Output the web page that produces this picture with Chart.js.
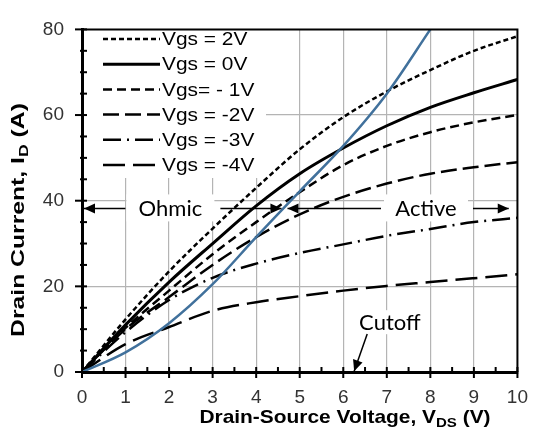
<!doctype html>
<html lang="en">
<head>
<meta charset="utf-8">
<title>Drain Current vs Drain-Source Voltage</title>
<script src="https://cdn.jsdelivr.net/npm/chart.js"></script>
<style>
  html, body { margin: 0; padding: 0; background: #fff; }
  #wrap { width: 542px; height: 430px; position: relative; }
</style>
</head>
<body>
<div id="wrap"><canvas id="ivChart"></canvas></div>
<script>
// drain-source voltage steps (V)
const vds = [0, 1, 2, 3, 4, 5, 6, 7, 8, 9, 10];

// drain current (A) for each gate-source voltage
const vgsLabels = ['Vgs = 2V', 'Vgs = 0V', 'Vgs= - 1V', 'Vgs = -2V', 'Vgs = -3V', 'Vgs = -4V'];
const idVgsP2 = [0, 12.3, 23.5, 33.5, 43, 52, 59.5, 65.5, 70.5, 75, 78.4];
const idVgs0  = [0, 11, 21, 30, 38.8, 46.3, 52.3, 57.5, 61.8, 65.2, 68.3];
const idVgsM1 = [0, 10.3, 19, 27.5, 35, 42, 48.3, 52.8, 56, 58.3, 60];
const idVgsM2 = [0, 10, 17.5, 25, 31.5, 36.8, 40.9, 44, 46.3, 47.8, 49];
const idVgsM3 = [0, 9.3, 16.8, 22, 25.3, 27.8, 29.8, 31.8, 33.4, 35, 36];
const idVgsM4 = [0, 6.5, 10.5, 14.3, 16.3, 17.7, 19, 20.1, 21, 21.9, 22.8];

// ohmic / active boundary
const edgeVds = [0, 1, 2, 3, 4, 5, 6, 7, 8];
const edgeId  = [0, 4.6, 11.4, 20.5, 31.5, 42.2, 52.8, 65, 80];

// axis ticks
const xTicks = [0, 1, 2, 3, 4, 5, 6, 7, 8, 9, 10];
const yTicks = [0, 20, 40, 60, 80];

const curves = [idVgsP2, idVgs0, idVgsM1, idVgsM2, idVgsM3, idVgsM4];
const dashes = [[5, 3], [], [9, 5], [16, 6], [18, 6, 2, 6], [22, 8]];
const widths = [2.5, 3, 2.5, 2.5, 2.5, 2.5];

const toPoints = (xs, ys) => xs.map((x, i) => ({ x: x, y: ys[i] }));

const datasets = curves.map((ys, i) => ({
  label: vgsLabels[i],
  data: toPoints(vds, ys),
  borderColor: '#000',
  borderWidth: widths[i],
  borderDash: dashes[i],
  pointRadius: 0,
  cubicInterpolationMode: 'monotone',
  fill: false
}));

datasets.push({
  label: 'boundary',
  data: toPoints(edgeVds, edgeId),
  borderColor: '#41719c',
  borderWidth: 2.5,
  pointRadius: 0,
  cubicInterpolationMode: 'monotone',
  order: -1,
  fill: false
});

const sansFont = '"Liberation Sans", Arial, sans-serif';
const noteFont = '22px Lato, "Open Sans", sans-serif';

// centred bold text with one subscript part, stretched along the baseline
function drawSubText(ctx, parts, size, stretch) {
  ctx.scale(stretch, 1);
  let total = 0;
  const pieces = parts.map(p => {
    ctx.font = 'bold ' + (p.sub ? size * 0.72 : size) + 'px ' + sansFont;
    const w = ctx.measureText(p.t).width;
    total += w;
    return { t: p.t, sub: p.sub, w: w };
  });
  let x = -total / 2;
  pieces.forEach(p => {
    ctx.font = 'bold ' + (p.sub ? size * 0.72 : size) + 'px ' + sansFont;
    ctx.fillText(p.t, x, p.sub ? size * 0.3 : 0);
    x += p.w;
  });
}

function arrowHead(ctx, x, y, dir) {
  ctx.beginPath();
  ctx.moveTo(x, y);
  ctx.lineTo(x - dir * 11, y - 5);
  ctx.lineTo(x - dir * 11, y + 5);
  ctx.closePath();
  ctx.fill();
}

const decorations = {
  id: 'decorations',
  beforeDatasetsDraw(chart) {
    const { ctx } = chart;
    const xs = chart.scales.x, ys = chart.scales.y;
    ctx.save();
    ctx.fillStyle = '#fff';
    // legend panel
    ctx.fillRect(86, 22, 180, 156);
    // label backgrounds
    const yArrow = ys.getPixelForValue(38.2);
    ctx.fillRect(xs.getPixelForValue(2.03) - 44, yArrow - 14, 88, 27);
    ctx.fillRect(xs.getPixelForValue(7.9) - 42, yArrow - 14, 84, 27);
    ctx.fillRect(xs.getPixelForValue(7.07) - 34, ys.getPixelForValue(11.4) - 13, 68, 24);
    ctx.restore();
  },
  afterDatasetsDraw(chart) {
    const { ctx, chartArea } = chart;
    const xs = chart.scales.x, ys = chart.scales.y;
    const L = chartArea.left, R = chartArea.right, T = chartArea.top, B = chartArea.bottom;
    ctx.save();

    // frame top and right
    ctx.strokeStyle = '#000';
    ctx.lineWidth = 2;
    ctx.beginPath();
    ctx.moveTo(L, T); ctx.lineTo(R, T); ctx.lineTo(R, B);
    ctx.stroke();

    // tick marks
    ctx.lineWidth = 2;
    for (let v = 0; v <= 10; v += 0.5) {
      const px = xs.getPixelForValue(v);
      ctx.beginPath();
      ctx.moveTo(px, B - 5);
      ctx.lineTo(px, Number.isInteger(v) ? B + 6 : B);
      ctx.stroke();
    }
    for (let v = 0; v <= 80; v += 5) {
      const py = ys.getPixelForValue(v);
      ctx.beginPath();
      ctx.moveTo(v % 20 === 0 ? L - 7 : L - 2, py);
      ctx.lineTo(L + 5, py);
      ctx.stroke();
    }

    // legend
    ctx.textBaseline = 'middle';
    ctx.textAlign = 'left';
    chart.data.datasets.slice(0, vgsLabels.length).forEach((ds, i) => {
      const y = 39 + i * 25.2;
      ctx.setLineDash(ds.borderDash);
      ctx.lineWidth = ds.borderWidth;
      ctx.beginPath();
      ctx.moveTo(103, y); ctx.lineTo(160, y);
      ctx.stroke();
      ctx.setLineDash([]);
      ctx.fillStyle = '#000';
      ctx.save();
      ctx.translate(162, y + 1);
      ctx.scale(1.1, 1);
      ctx.font = '19px ' + sansFont;
      ctx.fillText(ds.label, 0, 0);
      ctx.restore();
    });

    // region labels
    const yArrow = ys.getPixelForValue(38.2);
    ctx.lineWidth = 1.5;
    ctx.fillStyle = '#000';
    ctx.font = noteFont;
    ctx.textAlign = 'center';
    const ohmicX = xs.getPixelForValue(2.03);
    const activeX = xs.getPixelForValue(7.9);
    ctx.fillText('Ohmic', ohmicX, yArrow);
    ctx.fillText('Active', activeX, yArrow);

    const x0 = xs.getPixelForValue(0), xm1 = xs.getPixelForValue(4.58);
    const xm2 = xs.getPixelForValue(4.72), x1 = xs.getPixelForValue(9.8);
    ctx.beginPath();
    ctx.moveTo(x0 + 2, yArrow); ctx.lineTo(ohmicX - 45, yArrow);
    ctx.moveTo(ohmicX + 50, yArrow); ctx.lineTo(xm1, yArrow);
    ctx.moveTo(xm2, yArrow); ctx.lineTo(activeX - 45, yArrow);
    ctx.moveTo(activeX + 47, yArrow); ctx.lineTo(x1, yArrow);
    ctx.stroke();
    arrowHead(ctx, x0 + 2, yArrow, -1);
    arrowHead(ctx, xm1, yArrow, 1);
    arrowHead(ctx, xm2, yArrow, -1);
    arrowHead(ctx, x1, yArrow, 1);

    // cutoff note
    ctx.fillText('Cutoff', xs.getPixelForValue(7.07), ys.getPixelForValue(11.4));
    const ax = xs.getPixelForValue(6.55), ay = ys.getPixelForValue(8.9);
    const tx = xs.getPixelForValue(6.25), ty = ys.getPixelForValue(0.2);
    ctx.beginPath();
    ctx.moveTo(ax, ay); ctx.lineTo(tx, ty);
    ctx.stroke();
    const ang = Math.atan2(ty - ay, tx - ax);
    ctx.save();
    ctx.translate(tx, ty);
    ctx.rotate(ang);
    arrowHead(ctx, 0, 0, 1);
    ctx.restore();

    // axis titles
    ctx.fillStyle = '#000';
    ctx.textAlign = 'left';
    ctx.textBaseline = 'middle';
    ctx.save();
    ctx.translate(19, 220);
    ctx.rotate(-Math.PI / 2);
    drawSubText(ctx, [{ t: 'Drain Current, I' }, { t: 'D', sub: true }, { t: ' (A)' }], 19, 1.3);
    ctx.restore();
    ctx.save();
    ctx.translate(345, 418);
    drawSubText(ctx, [{ t: 'Drain-Source Voltage, V' }, { t: 'DS', sub: true }, { t: ' (V)' }], 18.5, 1.13);
    ctx.restore();

    ctx.restore();
  }
};

new Chart(document.getElementById('ivChart'), {
  type: 'line',
  data: { datasets: datasets },
  options: {
    responsive: true,
    maintainAspectRatio: false,
    animation: false,
    layout: { padding: { top: 20, right: 13, left: 0, bottom: 0 } },
    plugins: { legend: { display: false }, tooltip: { enabled: false } },
    scales: {
      x: {
        type: 'linear',
        min: 0,
        max: 10,
        afterFit: s => { s.height = 58; },
        afterBuildTicks: s => { s.ticks = xTicks.map(v => ({ value: v })); },
        ticks: { padding: 14, color: '#333', font: { family: sansFont, size: 19 } },
        grid: {
          color: c => (c.tick && c.tick.value > 0 && c.tick.value < 10) ? '#b4b4b4' : 'rgba(0,0,0,0)',
          lineWidth: 1.2,
          drawTicks: false
        },
        border: { color: '#000', width: 3 }
      },
      y: {
        min: 0,
        max: 80,
        afterFit: s => { s.width = 82; },
        afterBuildTicks: s => { s.ticks = yTicks.map(v => ({ value: v })); },
        ticks: { padding: 18, color: '#333', font: { family: sansFont, size: 19 } },
        grid: {
          color: c => (c.tick && c.tick.value > 0 && c.tick.value < 80) ? '#b4b4b4' : 'rgba(0,0,0,0)',
          lineWidth: 1.2,
          drawTicks: false
        },
        border: { color: '#000', width: 3 }
      }
    }
  },
  plugins: [decorations]
});
</script>
</body>
</html>
